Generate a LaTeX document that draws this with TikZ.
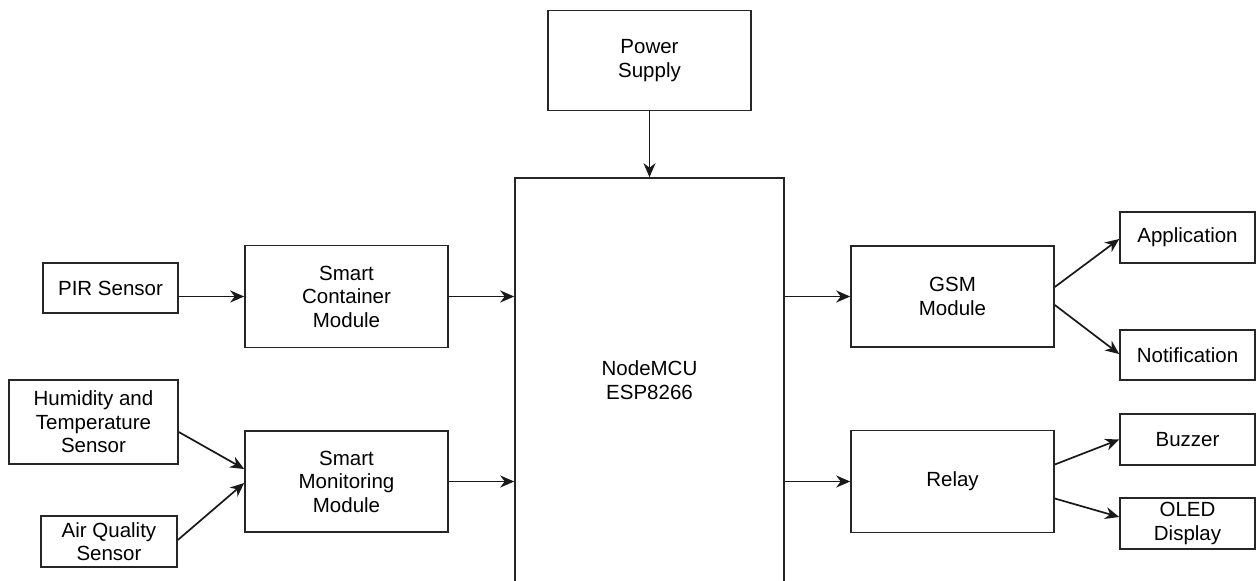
\documentclass[tikz,border=0pt]{standalone}
\usepackage{fontspec}
\setmainfont{Liberation Sans}
\usetikzlibrary{arrows.meta}
\begin{document}
\begin{tikzpicture}[x=1pt,y=-1pt,
  box/.style={draw=black!85, line width=1.6pt, rectangle, align=center, inner sep=0pt,
    font=\fontsize{20.5}{23.5}\selectfont},
  conn/.style={line width=1.7pt, draw=black!90, -{Stealth[length=14pt,width=12pt,inset=4.5pt]}}]
\useasboundingbox (0,0) rectangle (1256,581);
\clip (0,0) rectangle (1256,581);
\fill[white] (0,0) rectangle (1256,581);
\node[box, minimum width=203pt, minimum height=100pt] (pwr) at (649.5,60.5) {Power\\Supply};
\node[box, minimum width=269pt, minimum height=404pt] (mcu) at (649.5,380) {NodeMCU\\ESP8266};
\node[box, minimum width=135pt, minimum height=50pt] (pir) at (110.5,288) {PIR Sensor};
\node[box, minimum width=203pt, minimum height=102pt] (sc) at (346.5,296.5) {Smart\\Container\\Module};
\node[box, minimum width=169pt, minimum height=84pt] (hum) at (93.5,422) {Humidity and\\Temperature\\Sensor};
\node[box, minimum width=136pt, minimum height=51pt] (air) at (109,541.5) {Air Quality\\Sensor};
\node[box, minimum width=203pt, minimum height=101pt] (sm) at (346.5,481.5) {Smart\\Monitoring\\Module};
\node[box, minimum width=203pt, minimum height=101pt] (gsm) at (952.5,296.5) {GSM\\Module};
\node[box, minimum width=203pt, minimum height=102pt] (relay) at (952.5,481.5) {Relay};
\node[box, minimum width=135pt, minimum height=51pt] (app) at (1187.5,237.5) {Application};
\node[box, minimum width=135pt, minimum height=50pt] (noti) at (1187.5,355) {Notification};
\node[box, minimum width=135pt, minimum height=51pt] (buz) at (1187.5,439.5) {Buzzer};
\node[box, minimum width=135pt, minimum height=51pt] (oled) at (1187.5,523.5) {OLED\\Display};

\draw[conn] (pwr.south) -- (mcu.north);
\draw[conn] (pir.east |- sc.west) -- (sc.west);
\draw[conn] (sc.east) -- (sc.east -| mcu.west);
\draw[conn] (sm.east) -- (sm.east -| mcu.west);
\draw[conn] ([yshift=-10pt]hum.east) -- ([yshift=12.5pt]sm.west);
\draw[conn] ([yshift=1.5pt]air.east) -- ([yshift=-1.5pt]sm.west);
\draw[conn] (mcu.east |- gsm.west) -- (gsm.west);
\draw[conn] (mcu.east |- relay.west) -- (relay.west);
\draw[conn] ([yshift=9.5pt]gsm.east) -- ([yshift=-1.5pt]app.west);
\draw[conn] ([yshift=-8.5pt]gsm.east) -- ([yshift=1pt]noti.west);
\draw[conn] ([yshift=17pt]relay.east) -- (buz.west);
\draw[conn] ([yshift=-17pt]relay.east) -- ([yshift=6.5pt]oled.west);
\end{tikzpicture}
\end{document}
